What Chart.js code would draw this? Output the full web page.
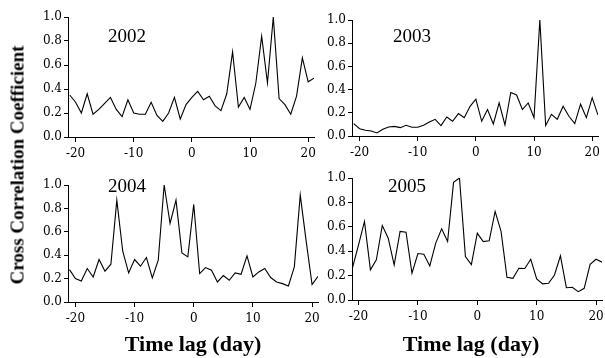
<!DOCTYPE html>
<html><head><meta charset="utf-8">
<script src="https://cdn.jsdelivr.net/npm/chart.js@4/dist/chart.umd.min.js"></script>
<style>
html,body{margin:0;padding:0;background:#fff;width:605px;height:358px;overflow:hidden}
body{position:relative}
canvas{position:absolute}
.t{position:absolute;font-family:"Liberation Serif","Times New Roman",serif;color:#000;white-space:nowrap;line-height:1}
.yr{font-size:19px;transform:translateX(-50%)}
.xt{font-size:22px;font-weight:bold;transform:translateX(-50%)}
.yt{font-size:19px;font-weight:bold;transform:translate(-50%,-50%) rotate(-90deg)}
</style></head><body>
<canvas id="c2002" width="306" height="160" style="left:18px;top:7px"></canvas>
<canvas id="c2003" width="306" height="156" style="left:302px;top:10px"></canvas>
<canvas id="c2004" width="310" height="157" style="left:18px;top:175px"></canvas>
<canvas id="c2005" width="310" height="162" style="left:302px;top:168px"></canvas>
<div class="t yr" style="left:127px;top:26px">2002</div>
<div class="t yr" style="left:412px;top:26px">2003</div>
<div class="t yr" style="left:127px;top:176px">2004</div>
<div class="t yr" style="left:407px;top:176px">2005</div>
<div class="t xt" style="left:193px;top:333px">Time lag (day)</div>
<div class="t xt" style="left:471px;top:333px">Time lag (day)</div>
<div class="t yt" style="left:17px;top:165px">Cross Correlation Coefficient</div>
<script>
const lags = [-21,-20,-19,-18,-17,-16,-15,-14,-13,-12,-11,-10,-9,-8,-7,-6,-5,-4,-3,-2,-1,0,1,2,3,4,5,6,7,8,9,10,11,12,13,14,15,16,17,18,19,20,21];
const cc2002 = [0.35,0.29,0.20,0.36,0.19,0.23,0.28,0.33,0.23,0.17,0.31,0.20,0.19,0.19,0.29,0.18,0.13,0.20,0.33,0.15,0.27,0.33,0.38,0.31,0.34,0.26,0.22,0.36,0.71,0.25,0.33,0.23,0.45,0.84,0.45,1.00,0.32,0.27,0.19,0.34,0.66,0.46,0.49];
const cc2003 = [0.107,0.063,0.05,0.043,0.026,0.058,0.078,0.083,0.072,0.092,0.075,0.075,0.092,0.12,0.144,0.09,0.164,0.127,0.193,0.158,0.256,0.317,0.127,0.228,0.104,0.285,0.095,0.375,0.354,0.228,0.285,0.158,1.0,0.09,0.187,0.144,0.256,0.17,0.107,0.274,0.158,0.33,0.18];
const cc2004 = [0.277,0.20,0.18,0.286,0.214,0.363,0.263,0.323,0.871,0.434,0.249,0.363,0.306,0.38,0.206,0.357,1.0,0.671,0.871,0.42,0.386,0.834,0.243,0.294,0.271,0.171,0.226,0.186,0.249,0.237,0.394,0.214,0.257,0.286,0.209,0.171,0.157,0.137,0.30,0.914,0.52,0.149,0.22];
const cc2005 = [0.268,0.452,0.644,0.247,0.329,0.611,0.507,0.288,0.562,0.556,0.219,0.381,0.375,0.279,0.466,0.584,0.479,0.964,1.0,0.356,0.29,0.548,0.479,0.485,0.726,0.562,0.186,0.178,0.26,0.258,0.334,0.173,0.132,0.137,0.205,0.362,0.101,0.104,0.068,0.096,0.293,0.334,0.31];
const xTicks = [-20,-10,0,10,20];
const yTicks = [0,0.2,0.4,0.6,0.8,1.0];

const tickFont = {family:"'DejaVu Serif', serif", size:12};
function makePanel(id, values, xMin){
  return new Chart(document.getElementById(id), {
    type:'line',
    data:{datasets:[{data: lags.map((x,i)=>({x:x, y:values[i]})), borderColor:'#000', borderWidth:1.1, pointRadius:0, tension:0, fill:false}]},
    options:{
      responsive:false, animation:false, devicePixelRatio:1,
      layout:{padding:{top:10,right:10,left:0,bottom:0}},
      plugins:{legend:{display:false}, tooltip:{enabled:false}},
      scales:{
        x:{type:'linear', min:xMin, max:21,
          afterBuildTicks:s=>{s.ticks = xTicks.map(v=>({value:v}));},
          afterFit:s=>{s.height=30;},
          grid:{display:true, drawOnChartArea:false, drawTicks:true, tickLength:5, color:'#000', lineWidth:1},
          border:{display:true, color:'#000', width:1},
          ticks:{color:'#000', font:tickFont, padding:5, maxRotation:0, autoSkip:false}},
        y:{type:'linear', min:0, max:1,
          afterBuildTicks:s=>{s.ticks = yTicks.map(v=>({value:v}));},
          afterFit:s=>{s.width=50;},
          grid:{display:true, drawOnChartArea:false, drawTicks:true, tickLength:4, color:'#000', lineWidth:1},
          border:{display:true, color:'#000', width:1},
          ticks:{color:'#000', font:tickFont, padding:2, callback:v=>Number(v).toFixed(1)}}
      }
    }
  });
}
makePanel('c2002', cc2002, -21.3);
makePanel('c2003', cc2003, -21.3);
makePanel('c2004', cc2004, -21.25);
makePanel('c2005', cc2005, -21.1);
</script>
</body></html>
